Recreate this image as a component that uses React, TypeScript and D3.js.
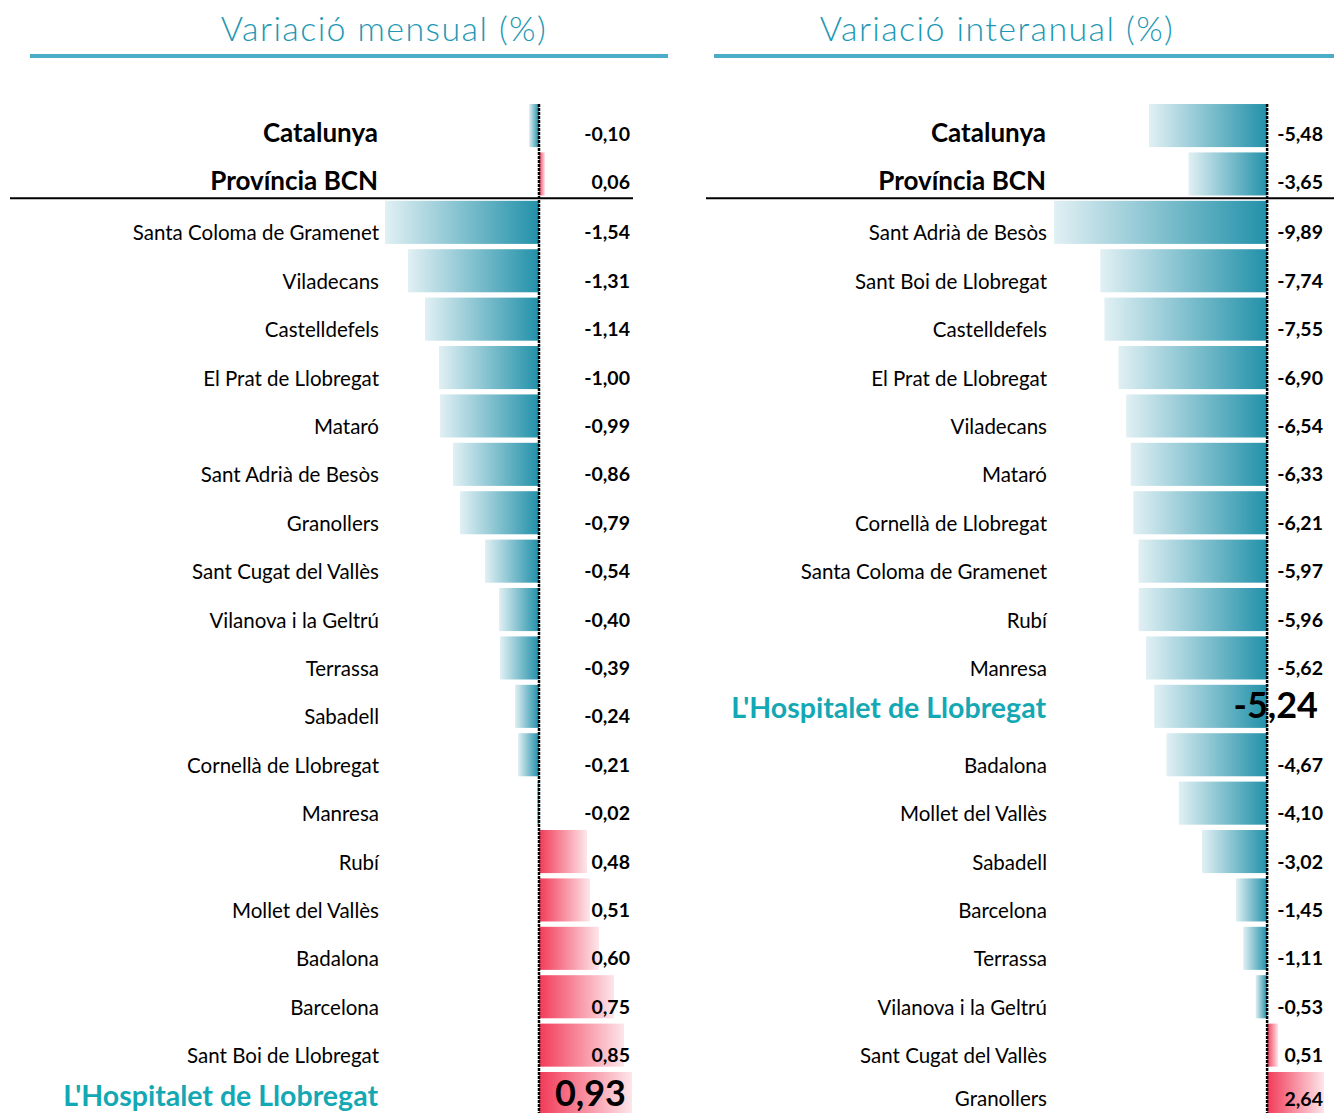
import { useEffect, useRef } from "react";
import * as d3 from "d3";

// monthly variation (%)
const monthlyNames = [
  "Catalunya", "Província BCN", "Santa Coloma de Gramenet", "Viladecans", "Castelldefels",
  "El Prat de Llobregat", "Mataró", "Sant Adrià de Besòs", "Granollers", "Sant Cugat del Vallès",
  "Vilanova i la Geltrú", "Terrassa", "Sabadell", "Cornellà de Llobregat", "Manresa", "Rubí",
  "Mollet del Vallès", "Badalona", "Barcelona", "Sant Boi de Llobregat", "L'Hospitalet de Llobregat",
];
const monthlyValues = [
  -0.1, 0.06, -1.54, -1.31, -1.14, -1.0, -0.99, -0.86, -0.79, -0.54, -0.4, -0.39, -0.24, -0.21,
  -0.02, 0.48, 0.51, 0.6, 0.75, 0.85, 0.93,
];

// year-on-year variation (%)
const yearlyNames = [
  "Catalunya", "Província BCN", "Sant Adrià de Besòs", "Sant Boi de Llobregat", "Castelldefels",
  "El Prat de Llobregat", "Viladecans", "Mataró", "Cornellà de Llobregat", "Santa Coloma de Gramenet",
  "Rubí", "Manresa", "L'Hospitalet de Llobregat", "Badalona", "Mollet del Vallès", "Sabadell",
  "Barcelona", "Terrassa", "Vilanova i la Geltrú", "Sant Cugat del Vallès", "Granollers",
];
const yearlyValues = [
  -5.48, -3.65, -9.89, -7.74, -7.55, -6.9, -6.54, -6.33, -6.21, -5.97, -5.96, -5.62, -5.24, -4.67,
  -4.1, -3.02, -1.45, -1.11, -0.53, 0.51, 2.64,
];

const aggregates = ["Catalunya", "Província BCN"];
const highlight = "L'Hospitalet de Llobregat";

const W = 1334;
const H = 1113;
const teal = "#1e98b4";
const font = "Lato, 'Open Sans', sans-serif";

const fmt = (v: number) => v.toFixed(2).replace(".", ",");

function drawPanel(svg: any, cfg: any) {
  const { names, values, title, titleX, ruleX, sepX, xRange, labelX, valueX, bigValueX } = cfg;
  const data = names.map((n: string, i: number) => ({ name: n, value: values[i] }));
  const isAgg = (n: string) => aggregates.includes(n);

  const x = d3.scaleLinear().domain(d3.extent(values) as any).range(xRange);
  const y = d3.scaleBand().domain(names).range([98.7, 1120.4]).padding(0.11);

  // title + underline
  svg.append("text")
    .attr("x", titleX).attr("y", 41)
    .attr("text-anchor", "middle")
    .attr("font-family", "'Century Gothic', 'URW Gothic', Lato, sans-serif")
    .attr("font-weight", 300)
    .attr("font-size", 34)
    .attr("letter-spacing", 1.4)
    .attr("fill", teal)
    .text(title);
  svg.append("rect")
    .attr("x", ruleX[0]).attr("y", 54)
    .attr("width", ruleX[1] - ruleX[0]).attr("height", 4)
    .attr("fill", "#4badc8");

  // bars
  svg.append("g")
    .selectAll("rect")
    .data(data)
    .join("rect")
    .attr("x", (d: any) => Math.min(x(0), x(d.value)))
    .attr("y", (d: any) => y(d.name))
    .attr("width", (d: any) => Math.abs(x(d.value) - x(0)))
    .attr("height", y.bandwidth())
    .attr("fill", (d: any) => (d.value < 0 ? "url(#gNeg)" : "url(#gPos)"));

  // separator under the aggregates
  const sepY = ((y(names[1]) as number) + y.bandwidth() + (y(names[2]) as number)) / 2;
  svg.append("line")
    .attr("x1", sepX[0]).attr("x2", sepX[1])
    .attr("y1", sepY).attr("y2", sepY)
    .attr("stroke", "#000").attr("stroke-width", 2);

  // zero line
  svg.append("line")
    .attr("x1", x(0)).attr("x2", x(0))
    .attr("y1", y(names[0])).attr("y2", H)
    .attr("stroke", "#000").attr("stroke-width", 2.5)
    .attr("stroke-dasharray", "3 1");

  const mid = (n: string) => (y(n) as number) + y.bandwidth() / 2;
  // keep the last row's text inside the picture
  const base = (v: number) => Math.min(v, H - 7);

  // category labels
  svg.append("g")
    .selectAll("text")
    .data(data)
    .join("text")
    .attr("x", (d: any) => (d.name === highlight || isAgg(d.name) ? labelX - 1 : labelX))
    .attr("y", (d: any) => base(mid(d.name) + (d.name === highlight ? 12 : isAgg(d.name) ? 16 : 18)))
    .attr("text-anchor", "end")
    .attr("font-family", font)
    .attr("font-size", (d: any) => (d.name === highlight ? 28.5 : isAgg(d.name) ? 26 : 20.5))
    .attr("font-weight", (d: any) => (d.name === highlight || isAgg(d.name) ? 700 : 400))
    .attr("fill", (d: any) => (d.name === highlight ? "#14a8b4" : "#000"))
    .text((d: any) => d.name);

  // value labels
  svg.append("g")
    .selectAll("text")
    .data(data)
    .join("text")
    .attr("x", (d: any) => (d.name === highlight ? bigValueX : valueX))
    .attr("y", (d: any) => base(mid(d.name) + (d.name === highlight ? 12 : isAgg(d.name) ? 15 : 17)))
    .attr("text-anchor", "end")
    .attr("font-family", font)
    .attr("font-size", (d: any) => (d.name === highlight ? 36 : 19.5))
    .attr("font-weight", 700)
    .attr("fill", "#000")
    .text((d: any) => fmt(d.value));
}

export default function App() {
  const ref = useRef<SVGSVGElement>(null);

  useEffect(() => {
    const svg = d3.select(ref.current);
    svg.selectAll("*").remove();

    const defs = svg.append("defs");
    const neg = defs.append("linearGradient").attr("id", "gNeg").attr("x1", 0).attr("x2", 1);
    neg.append("stop").attr("offset", 0).attr("stop-color", "#e1f0f4");
    neg.append("stop").attr("offset", 1).attr("stop-color", "#2291a9");
    const pos = defs.append("linearGradient").attr("id", "gPos").attr("x1", 0).attr("x2", 1);
    pos.append("stop").attr("offset", 0).attr("stop-color", "#f23a58");
    pos.append("stop").attr("offset", 1).attr("stop-color", "#fde6ea");

    drawPanel(svg, {
      names: monthlyNames,
      values: monthlyValues,
      title: "Variació mensual (%)",
      titleX: 384,
      ruleX: [30, 668],
      sepX: [10, 633],
      xRange: [385, 632],
      labelX: 379,
      valueX: 630,
      bigValueX: 626,
    });
    drawPanel(svg, {
      names: yearlyNames,
      values: yearlyValues,
      title: "Variació interanual (%)",
      titleX: 997,
      ruleX: [714, 1334],
      sepX: [706, 1334],
      xRange: [1054, 1324],
      labelX: 1047,
      valueX: 1323,
      bigValueX: 1318,
    });
  }, []);

  return (
    <svg
      ref={ref}
      width={W}
      height={H}
      style={{ position: "absolute", left: 0, top: 0, background: "#fff" }}
    />
  );
}
